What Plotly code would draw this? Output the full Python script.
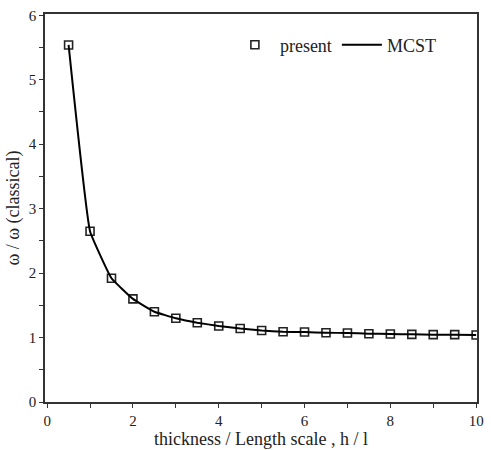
import plotly.graph_objects as go

h_ratio = [0.5, 1.0, 1.5, 2.0, 2.5, 3.0, 3.5, 4.0, 4.5, 5.0, 5.5, 6.0, 6.5, 7.0, 7.5, 8.0, 8.5, 9.0, 9.5, 10.0]
present = [5.54, 2.65, 1.92, 1.60, 1.40, 1.30, 1.23, 1.18, 1.14, 1.11, 1.09, 1.085, 1.075, 1.07, 1.06, 1.055, 1.05, 1.045, 1.045, 1.04]
mcst = [5.54, 2.65, 1.92, 1.60, 1.40, 1.30, 1.23, 1.18, 1.14, 1.11, 1.09, 1.085, 1.075, 1.07, 1.06, 1.055, 1.05, 1.045, 1.045, 1.04]

font = "Liberation Serif, Times New Roman, serif"

fig = go.Figure()
fig.add_trace(go.Scatter(
    x=h_ratio, y=present, mode="markers", name="present",
    marker=dict(symbol="square-open", size=8, color="#222222", line=dict(width=1.6, color="#222222")),
))
fig.add_trace(go.Scatter(
    x=h_ratio, y=mcst, mode="lines", name="MCST",
    line=dict(color="black", width=2, shape="spline", smoothing=0.3),
))

axis_common = dict(
    showline=True, linecolor="#333333", linewidth=1.5, mirror=True,
    showgrid=False, zeroline=False, ticks="outside", ticklen=4, tickwidth=1.2,
    tickcolor="#333333", tickfont=dict(family=font, size=15, color="#222222"),
)

fig.update_layout(
    width=491, height=450,
    margin=dict(l=45, r=7, t=14, b=46),
    paper_bgcolor="white", plot_bgcolor="white",
    font=dict(family=font, color="#222222"),
    xaxis=dict(range=[-0.05, 10.02], dtick=2, tick0=0,
               minor=dict(dtick=1, ticks="outside", ticklen=4, tickcolor="#333333"),
               title=dict(text="thickness / Length scale , h / l", font=dict(family=font, size=18), standoff=2),
               **axis_common),
    yaxis=dict(range=[0, 6.02], dtick=1, tick0=0,
               minor=dict(dtick=0.5, ticks="outside", ticklen=4, tickcolor="#333333"),
               title=dict(text="ω / ω (classical)", font=dict(family=font, size=18), standoff=4),
               **axis_common),
    legend=dict(orientation="h", x=0.428, y=0.92, xanchor="left", yanchor="middle",
                bgcolor="rgba(0,0,0,0)", font=dict(family=font, size=18, color="#222222"),
                itemwidth=40, tracegroupgap=0),
    showlegend=True,
)

fig.write_html("out.html")
